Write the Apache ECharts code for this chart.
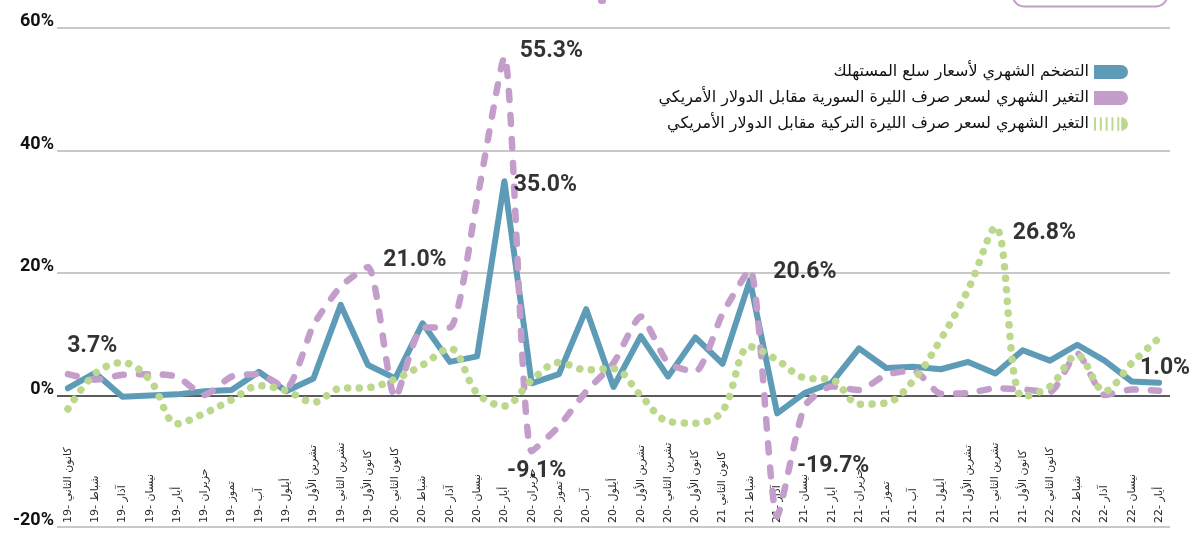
<!DOCTYPE html>
<html>
<head>
<meta charset="utf-8">
<script src="https://cdn.jsdelivr.net/npm/echarts@6/dist/echarts.min.js"></script>
<style>
  html, body { margin: 0; padding: 0; background: #fff; }
  #chart { width: 1197px; height: 534px; }
</style>
</head>
<body>
<div id="chart"></div>
<script>
const xLabels = [
  'كانون الثاني -19', 'شباط -19', 'آذار -19', 'نيسان -19', 'أيار -19', 'حزيران -19',
  'تموز -19', 'آب -19', 'أيلول -19', 'تشرين الأول -19', 'تشرين الثاني -19', 'كانون الأول -19',
  'كانون الثاني -20', 'شباط -20', 'آذار -20', 'نيسان -20', 'أيار -20', 'حزيران -20',
  'تموز -20', 'آب -20', 'أيلول -20', 'تشرين الأول -20', 'تشرين الثاني -20', 'كانون الأول -20',
  'كانون الثاني 21', 'شباط -21', 'آذار -21', 'نيسان -21', 'أيار -21', 'حزيران -21',
  'تموز -21', 'آب -21', 'أيلول -21', 'تشرين الأول -21', 'تشرين الثاني -21', 'كانون الأول -21',
  'كانون الثاني -22', 'شباط -22', 'آذار -22', 'نيسان -22', 'أيار -22'
]

const inflation = [
  1.2, 3.7, -0.2, 0.0, 0.2, 0.7, 0.9, 3.9, 0.7, 2.8, 14.8, 5.0,
  2.8, 11.8, 5.5, 6.4, 35.0, 2.0, 3.5, 14.1, 1.4, 9.7, 3.1, 9.5,
  5.2, 18.8, -2.9, 0.4, 2.1, 7.7, 4.5, 4.7, 4.3, 5.5, 3.6, 7.4,
  5.7, 8.3, 5.7, 2.3, 2.1
]
const sypChange = [
  3.5, 2.6, 3.4, 3.5, 3.1, 0.1, 3.1, 3.5, 1.2, 11.5, 17.8, 21.0,
  -0.4, 11.1, 11.1, 32.0, 55.3, -9.1, -5.0, 0.7, 5.3, 12.9, 5.3, 3.9,
  13.4, 20.6, -19.7, -1.8, 1.5, 0.9, 3.4, 4.1, 0.3, 0.4, 1.2, 1.0,
  0.6, 6.9, 0.1, 1.0, 0.8
]
const tryChange = [
  -2.2, 3.6, 5.4, 2.6, -4.6, -2.9, -0.7, 1.6, 0.8, -1.1, 1.2, 1.3,
  2.7, 5.0, 7.7, 0.4, -1.7, 2.5, 5.4, 4.2, 4.4, 0.0, -4.2, -4.5,
  -2.5, 8.0, 5.8, 2.9, 2.6, -1.4, -1.2, 2.5, 9.2, 17.3, 27.5, -0.2,
  1.5, 6.6, 0.7, 5.3, 9.4
]

const seriesNames = [
  'التضخم الشهري لأسعار سلع المستهلك',
  'التغير الشهري لسعر صرف الليرة السورية مقابل الدولار الأمريكي',
  'التغير الشهري لسعر صرف الليرة التركية مقابل الدولار الأمريكي'
]

// the bottom gridline sits a little under -20 in the source chart
const yTickValues = [-21.45, 0, 20, 40, 60]
const yTickLabels = ['-20%', '0%', '20%', '40%', '60%']

// callouts: which series, which month, what text
const calloutSeries = [0, 1, 1, 0, 1, 1, 1, 2, 1]
const calloutIndex = [1, 11, 16, 16, 17, 25, 26, 34, 40]
const calloutText = ['3.7%', '21.0%', '55.3%', '35.0%', '-9.1%', '20.6%', '-19.7%', '26.8%', '1.0%']

const colors = ['#5e9bb6', '#c49ecb', '#bcd88d']
const allSeries = [inflation, sypChange, tryChange]
const toPoints = (arr) => arr.map((v, i) => [i, v])

const calloutOffsets = [
  [-3, -27], [47, -7], [47, -6], [41, 4], [5, 20], [55, 3], [56, -50], [49, 6], [6, -22]
]

const chart = echarts.init(document.getElementById('chart'))

const option = {
  animation: false,
  grid: { left: 57, right: 27, top: 28, bottom: 7 },
  xAxis: {
    type: 'value',
    min: -0.4,
    max: 40.4,
    axisLine: { show: false },
    axisTick: { show: false },
    splitLine: { show: false },
    axisLabel: {
      customValues: xLabels.map((l, i) => i),
      inside: true,
      rotate: 90,
      margin: 4,
      fontSize: 11,
      color: '#2a2a2a',
      fontFamily: 'DejaVu Sans',
      formatter: (v) => '\u202B' + xLabels[v] + '\u202C',
    },
  },
  yAxis: {
    type: 'value',
    min: yTickValues[0],
    max: 60,
    axisLine: { show: false },
    axisTick: { show: false, customValues: yTickValues },
    axisLabel: {
      customValues: yTickValues,
      verticalAlign: 'bottom',
      lineHeight: 13,
      margin: 3,
      fontSize: 18,
      fontWeight: 'bold',
      fontFamily: 'Roboto',
      color: '#111',
      formatter: (v) => yTickLabels[yTickValues.indexOf(v)],
    },
    splitLine: {
      show: true,
      lineStyle: { color: ['#c8c8c8', '#5a5a5a', '#c8c8c8', '#c8c8c8', '#c8c8c8'], width: 2 },
    },
  },
  legend: {
    orient: 'vertical',
    align: 'right',
    right: 64,
    top: 59,
    itemWidth: 34,
    itemHeight: 15,
    itemGap: 10,
    itemStyle: { borderWidth: 0 },
    textStyle: { fontSize: 16, color: '#111', fontFamily: 'DejaVu Sans', lineHeight: 16 },
    data: [
      { name: seriesNames[0], icon: 'path://M0 0H27A7 7 0 0 1 27 14H0Z' },
      { name: seriesNames[1], icon: 'path://M0 0H27A7 7 0 0 1 27 14H0Z' },
      {
        name: seriesNames[2],
        icon: 'path://M0 0h2v14H0z M6 0h2v14H6z M12 0h2v14h-2z M18 0h2v14h-2z M24 0h2v14h-2z M28 0A7 7 0 0 1 28 14Z',
      },
    ],
  },
  graphic: [
    {
      type: 'rect',
      left: 1010,
      top: -22,
      shape: { width: 155, height: 26, r: 12 },
      style: { fill: 'none', stroke: colors[1], lineWidth: 2 },
    },
    {
      type: 'rect',
      left: 598,
      top: -4,
      shape: { width: 8, height: 8, r: 3 },
      style: { fill: colors[1] },
    },
  ],
  series: [
    {
      name: seriesNames[0],
      type: 'line',
      color: colors[0],
      data: toPoints(inflation),
      showSymbol: false,
      symbol: 'none',
      lineStyle: { width: 6, color: colors[0], join: 'round', cap: 'round' },
      z: 2,
    },
    {
      name: seriesNames[1],
      type: 'line',
      color: colors[1],
      data: toPoints(sypChange),
      smooth: 0.2,
      showSymbol: false,
      symbol: 'none',
      lineStyle: { width: 6.5, color: colors[1], type: [9, 15], cap: 'round', join: 'round' },
      z: 3,
    },
    {
      name: seriesNames[2],
      type: 'line',
      color: colors[2],
      data: toPoints(tryChange),
      smooth: 0.35,
      showSymbol: false,
      symbol: 'none',
      lineStyle: { width: 7.5, color: colors[2], type: [0.1, 11.5], cap: 'round' },
      z: 4,
    },
    {
      name: 'callouts',
      type: 'scatter',
      symbolSize: 1,
      itemStyle: { color: 'rgba(0,0,0,0)' },
      silent: true,
      z: 5,
      label: {
        show: true,
        position: 'inside',
        fontSize: 23,
        fontWeight: 'bold',
        fontFamily: 'Roboto',
        color: '#000',
      },
      data: calloutIndex.map((idx, k) => ({
        value: [idx, allSeries[calloutSeries[k]][idx]],
        label: { formatter: calloutText[k], offset: calloutOffsets[k] },
      })),
    },
  ],
}

chart.setOption(option)
</script>
</body>
</html>
